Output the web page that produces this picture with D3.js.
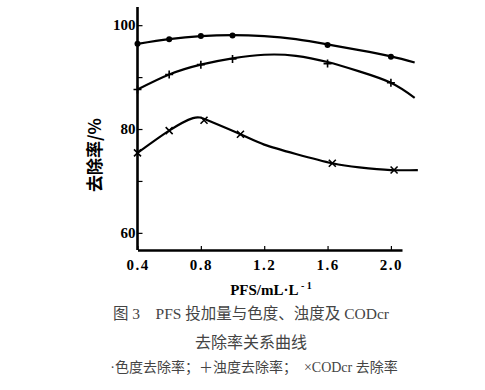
<!DOCTYPE html>
<html><head><meta charset="utf-8">
<script src="https://cdn.jsdelivr.net/npm/d3@7"></script>
<style>
html,body{margin:0;padding:0;background:#fff;}
svg{display:block;}
</style></head>
<body>
<svg id="c" width="485" height="390"></svg>
<script>
// ---- data ----
const xTicks = [0.4, 0.8, 1.2, 1.6, 2.0];
const yTicks = [60, 70, 80, 90, 100];
const yLabeled = [60, 80, 100];

// markers
const colorPts = [[0.4,96.4],[0.6,97.3],[0.8,97.9],[1.0,98.0],[1.6,96.2],[2.0,93.9]];
const turbPts  = [[0.4,87.6],[0.6,90.5],[0.8,92.4],[1.0,93.5],[1.6,92.6],[2.0,88.9]];
const codPts   = [[0.4,75.4],[0.6,79.7],[0.82,81.7],[1.05,79.0],[1.63,73.4],[2.02,72.1]];

// fitted curves (as drawn)
const colorCurve = [[0.4,96.4],[0.6,97.3],[0.8,97.9],[1.0,98.1],[1.2,97.9],[1.4,97.3],[1.6,96.3],[1.8,95.2],[2.0,94.0],[2.15,92.8]];
const turbCurve  = [[0.4,87.6],[0.6,90.5],[0.8,92.4],[1.0,93.6],[1.2,94.3],[1.4,94.1],[1.6,92.9],[1.8,91.1],[2.0,88.9],[2.15,86.0]];
const codCurve   = [[0.4,75.4],[0.6,79.7],[0.75,82.1],[0.85,81.6],[1.05,79.0],[1.2,77.0],[1.4,75.2],[1.63,73.4],[1.8,72.6],[2.0,72.1],[2.17,72.1]];

const svg = d3.select("#c");
const x = d3.scaleLinear().domain([0.4, 2.07]).range([137.5, 402]);
const y = d3.scaleLinear().domain([56.7, 103.5]).range([250, 7]);

const line = d3.line().x(d=>x(d[0])).y(d=>y(d[1])).curve(d3.curveNatural);

const tickFont = "'Liberation Serif', serif";

// x axis
const gx = svg.append("g").attr("transform","translate(0,250)")
  .call(d3.axisBottom(x).tickValues(xTicks).tickSizeInner(-4).tickSizeOuter(0).tickPadding(9).tickFormat(d3.format(".1f")));
gx.select(".domain").attr("stroke","#000").attr("stroke-width",2.6);
gx.selectAll(".tick line").attr("stroke","#000").attr("stroke-width",1.2);
gx.selectAll(".tick text").attr("font-family",tickFont).attr("font-weight","bold")
  .attr("font-size",15).attr("letter-spacing","1.5px").attr("fill","#000");

// y axis
const gy = svg.append("g").attr("transform","translate(137.5,0)")
  .call(d3.axisLeft(y).tickValues(yTicks).tickSizeInner(-5).tickSizeOuter(0).tickPadding(2)
    .tickFormat(d=> yLabeled.includes(d) ? d : ""));
gy.select(".domain").attr("stroke","#000").attr("stroke-width",2.6)
  .attr("d", `M0,${y(103.5)}V${y(56.7)}`);
gy.selectAll(".tick line").attr("stroke","#000").attr("stroke-width",1.2);
gy.selectAll(".tick text").attr("font-family",tickFont).attr("font-weight","bold")
  .attr("font-size",15).attr("fill","#000");

// curves
[colorCurve, turbCurve, codCurve].forEach(c=>{
  svg.append("path").attr("d", line(c)).attr("fill","none").attr("stroke","#000").attr("stroke-width",2.2);
});

// markers
svg.append("g").selectAll("circle").data(colorPts).join("circle")
  .attr("cx",d=>x(d[0])).attr("cy",d=>y(d[1])).attr("r",3).attr("fill","#000");
svg.append("g").selectAll("path").data(turbPts).join("path")
  .attr("d",d=>{const px=x(d[0]),py=y(d[1]);return `M${px-4},${py}H${px+4}M${px},${py-4}V${py+4}`;})
  .attr("stroke","#000").attr("stroke-width",1.6);
svg.append("g").selectAll("path").data(codPts).join("path")
  .attr("d",d=>{const px=x(d[0]),py=y(d[1]);return `M${px-3.5},${py-3.5}L${px+3.5},${py+3.5}M${px-3.5},${py+3.5}L${px+3.5},${py-3.5}`;})
  .attr("stroke","#000").attr("stroke-width",1.6);

// y axis title
svg.append("text").attr("transform","translate(101,155) rotate(-90)")
  .attr("text-anchor","middle").attr("font-family","'Noto Sans CJK SC', sans-serif")
  .attr("font-weight","bold").attr("font-size",17).attr("fill","#000").text("去除率/%");

// x axis title
const xt = svg.append("text").attr("x",271).attr("y",295).attr("text-anchor","middle")
  .attr("font-family",tickFont).attr("font-weight","bold").attr("font-size",15).attr("fill","#000");
xt.append("tspan").text("PFS/mL·L");
xt.append("tspan").attr("dy",-6).attr("font-size",10).text(" - 1");

// caption
const capFont = "'Liberation Serif', 'Noto Sans CJK SC', serif";
svg.append("text").attr("x",251).attr("y",319).attr("text-anchor","middle")
  .attr("font-family",capFont).attr("font-size",15.5).attr("fill","#444")
  .attr("xml:space","preserve").text("图 3    PFS 投加量与色度、浊度及 CODcr");
svg.append("text").attr("x",251).attr("y",348).attr("text-anchor","middle")
  .attr("font-family",capFont).attr("font-size",16).attr("fill","#444").text("去除率关系曲线");
svg.append("text").attr("x",254).attr("y",372).attr("text-anchor","middle")
  .attr("font-family",capFont).attr("font-size",14).attr("fill","#444")
  .attr("xml:space","preserve").text("·色度去除率；＋浊度去除率；  ×CODcr 去除率");
</script>
</body></html>
